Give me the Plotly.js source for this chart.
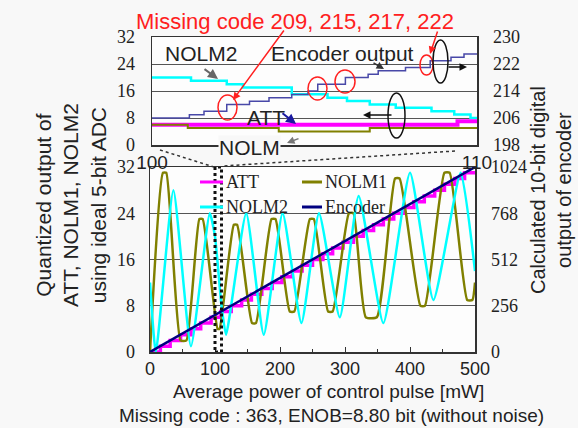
<!DOCTYPE html>
<html>
<head>
<meta charset="utf-8">
<script src="https://cdn.plot.ly/plotly-3.0.1.min.js"></script>
<style>html,body{margin:0;padding:0;background:#f8f8f8;}#chart{width:578px;height:428px;}</style>
</head>
<body>
<div id="chart"></div>
<script>
// ---------- data (main plot, 0-500 mW) ----------
const attX = [0, 16, 31, 47, 63, 78, 94, 109, 125, 141, 156, 172, 188, 203, 219, 234, 250, 266, 281, 297, 313, 328, 344, 359, 375, 391, 406, 422, 438, 453, 469, 484, 500];
const attY = [0, 1, 2, 3, 4, 5, 6, 7, 8, 9, 10, 11, 12, 13, 14, 15, 16, 17, 18, 19, 20, 21, 22, 23, 24, 25, 26, 27, 28, 29, 30, 31, 31];

const nolm1X = [0, 20, 25, 47, 56, 76, 81, 104, 107, 129, 134, 157, 163, 187, 193, 215, 222, 246, 252, 274, 281, 306, 313, 332, 349, 377, 384, 416, 423, 453, 461, 488, 496, 500];
const nolm1Y = [0, 31, 31, 2, 2, 23, 23, 4, 4, 22, 22, 5, 5, 23, 23, 7, 7, 23, 23, 7, 7, 24, 24, 6, 6, 30, 30, 8, 8, 31, 31, 9, 9, 12];

const nolm2X = [0, 9, 36, 63, 92, 100, 110, 117, 148, 175, 204, 233, 260, 292, 321, 359, 400, 436, 478, 500];
const nolm2Y = [12, 0, 28, 1, 24, 20, 8, 3, 24, 3, 24, 5, 24, 6, 27, 5, 31, 9, 31, 14];

const encX = [0, 100, 200, 300, 400, 500];
const encY = [0, 205, 410, 614, 819, 1024];

// ---------- data (inset, 100-110 mW) ----------
const nolm2TopX = [100, 101.2, 102.3, 102.8, 104.3, 105.4, 106.0, 106.7, 107.5, 108.6, 109.3, 109.8, 110];
const nolm2TopY = [20, 19, 18, 17, 15, 14, 13, 12, 11, 10, 9, 8, 8];
const attTopX = [100, 109.4, 110];
const attTopY = [6, 7, 7];
const nolm1TopX = [100, 101.1, 103.9, 106.7, 110];
const nolm1TopY = [6, 5, 4, 5, 5];
const encTopX = [100, 101.15, 101.6, 102.3, 103.0, 103.6, 104.3, 104.8, 105.1, 105.95, 106.65, 106.96, 107.8, 108.56, 109.2, 109.6, 110];
const encTopY = [206, 207, 208, 210, 211, 212, 213, 214, 216, 218, 219, 220, 221, 223, 224, 225, 225];

// ---------- tick labels ----------
const mainXTicks = [0, 100, 200, 300, 400, 500];
const leftTicks = [0, 8, 16, 24, 32];
const rightMainTicks = [0, 256, 512, 768, 1024];
const insetXTicks = [100, 110];
const rightInsetTicks = [198, 206, 214, 222, 230];

const W = 578, H = 428;
const px = v => v / W;
const py = v => 1 - v / H;
const SANS = 'Liberation Sans, Arial, sans-serif';
const SERIF = 'Liberation Serif, Times New Roman, serif';
const TXT = '#222';

const traces = [
  {x: attX, y: attY, xaxis: 'x', yaxis: 'y', mode: 'lines', name: 'ATT',
   line: {color: '#ff00ff', width: 3.5, shape: 'hv'}},
  {x: nolm1X, y: nolm1Y, xaxis: 'x', yaxis: 'y', mode: 'lines', name: 'NOLM1',
   line: {color: '#808000', width: 2.5, shape: 'spline', smoothing: 0.5}},
  {x: nolm2X, y: nolm2Y, xaxis: 'x', yaxis: 'y', mode: 'lines', name: 'NOLM2',
   line: {color: '#00ffff', width: 2.5, shape: 'spline', smoothing: 0.5}},
  {x: encX, y: encY, xaxis: 'x', yaxis: 'y2', mode: 'lines', name: 'Encoder',
   line: {color: '#000080', width: 2.5}},
  // inset
  {x: nolm2TopX, y: nolm2TopY, xaxis: 'x2', yaxis: 'y3', mode: 'lines',
   line: {color: '#00ffff', width: 2.5, shape: 'hv'}},
  {x: attTopX, y: attTopY, xaxis: 'x2', yaxis: 'y3', mode: 'lines',
   line: {color: '#ff00ff', width: 4, shape: 'hv'}},
  {x: nolm1TopX, y: nolm1TopY, xaxis: 'x2', yaxis: 'y3', mode: 'lines',
   line: {color: '#808000', width: 2, shape: 'hv'}},
  {x: encTopX, y: encTopY, xaxis: 'x2', yaxis: 'y4', mode: 'lines',
   line: {color: '#4848a8', width: 1.5, shape: 'hv'}}
];

const boxAxis = {showline: true, mirror: true, linecolor: '#333', linewidth: 1.5, zeroline: false};

const layout = {
  width: W, height: H,
  margin: {l: 0, r: 0, t: 0, b: 0},
  paper_bgcolor: '#f8f8f8',
  plot_bgcolor: '#fdfdfd',
  showlegend: false,
  xaxis: Object.assign({}, boxAxis, {
    domain: [px(150), px(475)], range: [0, 500], anchor: 'y',
    tickvals: mainXTicks, ticks: 'inside', ticklen: 5, tickcolor: '#333',
    minor: {tick0: 0, dtick: 50, ticks: 'inside', ticklen: 3, tickcolor: '#333'},
    showgrid: false, tickfont: {family: SANS, size: 18, color: TXT}, ticklabelstandoff: 0
  }),
  yaxis: Object.assign({}, boxAxis, {
    domain: [py(352), py(167)], range: [0, 32], anchor: 'x',
    tickvals: leftTicks, ticks: '', showgrid: true, gridcolor: '#555', gridwidth: 1,
    tickfont: {family: SERIF, size: 18, color: TXT}, ticklabelstandoff: 10
  }),
  yaxis2: {
    overlaying: 'y', side: 'right', anchor: 'x', range: [0, 1024],
    tickvals: rightMainTicks, ticks: '', showgrid: false, zeroline: false, showline: false,
    tickfont: {family: SERIF, size: 18, color: TXT}, ticklabelstandoff: 15
  },
  xaxis2: Object.assign({}, boxAxis, {
    domain: [px(152), px(477)], range: [100, 110], anchor: 'y3',
    tickvals: insetXTicks, ticks: '', showgrid: false,
    tickfont: {family: SANS, size: 19, color: TXT}, ticklabelstandoff: 0
  }),
  yaxis3: Object.assign({}, boxAxis, {
    domain: [py(145), py(37)], range: [0, 32], anchor: 'x2',
    tickvals: leftTicks, ticks: '', showgrid: true, gridcolor: '#555', gridwidth: 1,
    tickfont: {family: SERIF, size: 18, color: TXT}, ticklabelstandoff: 12
  }),
  yaxis4: {
    overlaying: 'y3', side: 'right', anchor: 'x2', range: [198, 230],
    tickvals: rightInsetTicks, ticks: '', showgrid: false, zeroline: false, showline: false,
    tickfont: {family: SERIF, size: 18, color: TXT}, ticklabelstandoff: 15
  },
  shapes: [
    // zoom band in main plot (100-110 mW)
    {type: 'rect', xref: 'x', yref: 'y', x0: 100, x1: 110, y0: 0, y1: 32,
     line: {color: '#111', width: 3, dash: 'dot'}},
    // dotted zoom connector lines
    {type: 'line', xref: 'paper', yref: 'paper', x0: px(160), y0: py(150), x1: px(214), y1: py(167),
     line: {color: '#333', width: 1.5, dash: 'dot'}},
    {type: 'line', xref: 'paper', yref: 'paper', x0: px(455), y0: py(151), x1: px(223), y1: py(166),
     line: {color: '#333', width: 1.5, dash: 'dot'}},
    // red circles (missing codes)
    {type: 'circle', xref: 'paper', yref: 'paper', x0: px(218), x1: px(237), y0: py(120), y1: py(95),
     line: {color: '#ff2020', width: 1.5}},
    {type: 'circle', xref: 'paper', yref: 'paper', x0: px(308), x1: px(327), y0: py(100), y1: py(77),
     line: {color: '#ff2020', width: 1.5}},
    {type: 'circle', xref: 'paper', yref: 'paper', x0: px(335), x1: px(355), y0: py(93), y1: py(70),
     line: {color: '#ff2020', width: 1.5}},
    {type: 'circle', xref: 'paper', yref: 'paper', x0: px(420), x1: px(433), y0: py(75), y1: py(55),
     line: {color: '#ff2020', width: 1.5}},
    // black ellipses
    {type: 'circle', xref: 'paper', yref: 'paper', x0: px(433), x1: px(448), y0: py(83), y1: py(40),
     line: {color: '#111', width: 1.5}},
    {type: 'circle', xref: 'paper', yref: 'paper', x0: px(388), x1: px(405), y0: py(138), y1: py(93),
     line: {color: '#111', width: 1.5}},
    // manual legend samples
    {type: 'line', xref: 'paper', yref: 'paper', x0: px(200), x1: px(223), y0: py(182), y1: py(182),
     line: {color: '#ff00ff', width: 3}},
    {type: 'line', xref: 'paper', yref: 'paper', x0: px(302), x1: px(322), y0: py(182), y1: py(182),
     line: {color: '#808000', width: 3}},
    {type: 'line', xref: 'paper', yref: 'paper', x0: px(200), x1: px(223), y0: py(207), y1: py(207),
     line: {color: '#00ffff', width: 3}},
    {type: 'line', xref: 'paper', yref: 'paper', x0: px(302), x1: px(322), y0: py(207), y1: py(207),
     line: {color: '#000080', width: 3}}
  ],
  annotations: []
};

function txt(text, x, y, opts) {
  return Object.assign({text: text, xref: 'paper', yref: 'paper', x: px(x), y: py(y),
    showarrow: false, xanchor: 'center', yanchor: 'middle',
    font: {family: SANS, size: 21, color: TXT}}, opts || {});
}
function arrow(hx, hy, tx, ty, color, width) {
  return {text: '', xref: 'paper', yref: 'paper', x: px(hx), y: py(hy),
    ax: tx - hx, ay: ty - hy, showarrow: true, arrowhead: 2, arrowsize: 1,
    arrowwidth: width || 1.5, arrowcolor: color};
}

layout.annotations.push(
  txt('Missing code 209, 215, 217, 222', 295, 22, {font: {family: SANS, size: 22, color: '#ff2020'}}),
  txt('NOLM2', 201, 54),
  txt('Encoder output', 342, 54),
  txt('ATT', 266, 117),
  txt('NOLM', 249, 148, {bgcolor: '#f8f8f8', borderpad: 0}),
  txt('Average power of control pulse [mW]', 329, 391, {font: {family: SANS, size: 19, color: TXT}}),
  txt('Missing code : 363, ENOB=8.80 bit (without noise)', 331, 415, {font: {family: SANS, size: 19, color: TXT}}),
  txt('Quantized output of<br>ATT, NOLM1, NOLM2<br>using ideal 5-bit ADC', 71, 205, {textangle: -90}),
  txt('Calculated 10-bit digital<br>output of encoder', 551, 190, {textangle: -90, font: {family: SANS, size: 20, color: TXT}}),
  // legend texts
  txt('ATT', 224, 182, {xanchor: 'left', font: {family: SERIF, size: 18, color: TXT}}),
  txt('NOLM1', 323, 182, {xanchor: 'left', font: {family: SERIF, size: 18, color: TXT}}),
  txt('NOLM2', 224, 207, {xanchor: 'left', font: {family: SERIF, size: 18, color: TXT}}),
  txt('Encoder', 323, 207, {xanchor: 'left', font: {family: SERIF, size: 18, color: TXT}}),
  // arrows
  arrow(233, 100, 285, 29, '#ff2020', 1.5),
  arrow(430, 54, 438, 30, '#ff2020', 1.5),
  arrow(467, 67, 447, 67, '#111', 1.5),
  arrow(363, 115, 393, 115, '#111', 1.5),
  arrow(218, 79, 203, 68, '#666', 2),
  arrow(384, 69, 372, 62, '#333', 1.5),
  arrow(296, 124, 281, 112, '#1a1aa0', 2),
  arrow(287, 143, 300, 138, '#777', 1.5)
);

Plotly.newPlot('chart', traces, layout, {displayModeBar: false, staticPlot: true});
</script>
</body>
</html>
